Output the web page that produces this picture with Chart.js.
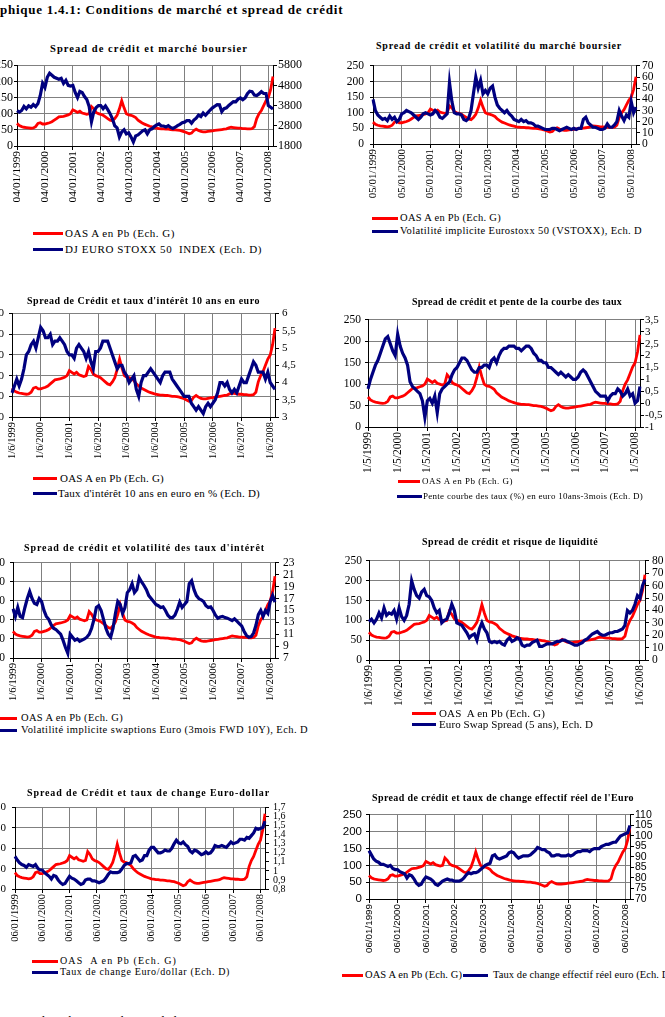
<!DOCTYPE html>
<html><head><meta charset="utf-8">
<script src="https://cdn.jsdelivr.net/npm/chart.js@4.4.1/dist/chart.umd.min.js"></script>
<style>
html,body{margin:0;padding:0;width:665px;height:1017px;overflow:hidden;background:#fff;position:relative}
.t{position:absolute;white-space:pre;color:#000;line-height:1}
.ln{position:absolute;height:3px}
canvas{position:absolute}
</style></head><body>
<script>
// ---------- categories ----------
const years = [1999,2000,2001,2002,2003,2004,2005,2006,2007,2008];
const months = [];
years.forEach(y => { for (let m = 1; m <= 12; m++) if (months.length < 111) months.push(y + '-' + String(m).padStart(2,'0')); });

// ---------- tick labels ----------
const xt1 = ['04/01/1999','04/01/2000','04/01/2001','04/01/2002','04/01/2003','04/01/2004','04/01/2005','04/01/2006','04/01/2007','04/01/2008'];
const xt2 = ['05/01/1999','05/01/2000','05/01/2001','05/01/2002','05/01/2003','05/01/2004','05/01/2005','05/01/2006','05/01/2007','05/01/2008'];
const xt3 = ['1/6/1999','1/6/2000','1/6/2001','1/6/2002','1/6/2003','1/6/2004','1/6/2005','1/6/2006','1/6/2007','1/6/2008'];
const xt4 = ['1/5/1999','1/5/2000','1/5/2001','1/5/2002','1/5/2003','1/5/2004','1/5/2005','1/5/2006','1/5/2007','1/5/2008'];
const xt7 = ['06/01/1999','06/01/2000','06/01/2001','06/01/2002','06/01/2003','06/01/2004','06/01/2005','06/01/2006','06/01/2007','06/01/2008'];

// ---------- series (monthly, Jan 1999 - Mar 2008) ----------
const oas = [
 70,63,60,58,57,56,55,56,60,70,72,68,
 68,70,72,75,80,85,90,91,92,94,96,100,
 112,108,104,108,102,100,98,100,122,115,104,100,
 98,95,90,85,80,78,85,95,115,140,118,100,
 96,95,92,88,80,75,70,67,64,61,59,57,
 55,54,53,53,52,52,51,50,50,49,48,46,
 44,41,38,40,48,52,48,45,44,44,45,46,
 47,48,49,50,51,52,53,56,58,57,56,55,
 55,54,54,53,53,54,60,85,100,110,125,140,
 150,175,215];
const stoxx = [
 3550,3480,3560,3760,3640,3790,3720,3850,3750,3900,4300,4900,
 4700,5200,5400,5300,5200,5150,5100,5150,4900,5050,4800,4770,
 4800,4450,4200,4500,4450,4250,4100,3750,3000,3500,3700,3800,
 3800,3650,3780,3600,3400,3150,2800,2700,2250,2500,2600,2400,
 2450,2250,2000,2300,2350,2450,2550,2600,2400,2600,2650,2760,
 2840,2890,2790,2790,2740,2810,2720,2670,2730,2810,2870,2950,
 2980,3060,3060,2930,3080,3180,3330,3260,3430,3320,3450,3580,
 3690,3770,3850,3840,3500,3650,3690,3810,3900,4000,3990,4120,
 4180,4090,4180,4390,4510,4490,4320,4300,4380,4490,4400,4400,
 3800,3720,3630];
const vstoxx = [
 40,30,26,24,22,23,21,25,22,24,20,22,
 27,28,30,29,28,26,24,22,24,27,28,27,
 26,27,30,28,24,23,25,27,55,38,28,27,
 27,26,22,21,23,30,45,60,50,57,45,48,
 45,50,52,42,35,32,30,28,30,27,25,22,
 21,20,22,20,21,19,19,18,16,16,15,14,
 13,13,13,14,14,13,12,13,14,15,14,13,
 14,13,14,14,22,24,19,17,15,15,14,13,
 13,14,18,15,15,17,20,30,25,21,26,24,
 38,28,33];
const bund10 = [
 3.7,3.9,4.1,3.9,4.1,4.4,4.8,4.9,5.1,5.2,5.0,5.3,
 5.6,5.5,5.3,5.3,5.4,5.1,5.2,5.2,5.3,5.2,5.1,4.9,
 4.8,4.8,4.7,5.0,5.1,5.0,4.9,4.7,4.9,4.6,4.4,4.9,
 4.9,5.0,5.2,5.2,5.2,5.0,4.8,4.6,4.4,4.5,4.5,4.3,
 4.2,4.0,4.1,4.2,3.8,3.6,4.0,4.2,4.2,4.3,4.4,4.3,
 4.2,4.1,4.0,4.2,4.3,4.3,4.3,4.1,4.0,3.9,3.8,3.7,
 3.6,3.6,3.6,3.4,3.3,3.2,3.3,3.2,3.1,3.3,3.4,3.3,
 3.4,3.5,3.7,4.0,4.0,3.9,4.0,3.8,3.7,3.8,3.7,3.9,
 4.1,4.0,4.0,4.2,4.4,4.6,4.5,4.3,4.3,4.3,4.1,4.3,
 4.0,3.9,3.8];
const slope = [
 0.6,1.0,1.3,1.6,1.8,2.1,2.4,2.7,2.8,2.5,2.2,2.0,
 2.9,2.4,2.1,1.9,1.6,0.9,0.7,0.6,0.5,0.4,0.1,-0.6,
 0.1,0.2,0.0,0.3,-0.4,0.4,0.6,0.7,0.8,0.9,1.2,1.4,
 1.5,1.7,1.9,1.9,1.8,1.6,1.4,1.3,1.3,1.5,1.5,1.6,
 1.6,1.5,1.8,1.9,1.7,2.0,2.2,2.3,2.3,2.4,2.4,2.4,
 2.3,2.3,2.2,2.3,2.4,2.4,2.3,2.1,2.0,1.8,1.8,1.7,
 1.7,1.5,1.5,1.4,1.3,1.2,1.3,1.2,1.1,1.2,1.1,1.0,
 1.0,1.1,1.3,1.4,1.3,1.1,0.9,0.7,0.5,0.4,0.3,0.3,
 0.3,0.1,0.3,0.4,0.4,0.6,0.5,0.3,0.4,0.6,0.3,0.4,
 0.0,0.1,0.7];
const swaptionVol = [
 15.3,14,15.5,14,13.8,15.5,17,18.2,17,16.2,16,17,
 16.5,15,14,13.5,12.6,12,11.8,11.4,11,10,8.8,7.8,
 11,10.5,10,10.2,9.8,10,10.2,10.5,11,12,13.5,15.5,
 15.8,15,13.5,12,11,10.5,12,14.5,16.5,16,14.5,15.5,
 18,18.5,19.5,18,18.5,20.5,19.8,19.2,18.5,17.5,17,16.5,
 16,15.8,15.5,15.6,15,14.2,13.8,13.8,14.2,15.2,16.4,15.5,
 16,16.5,19.5,20,18.5,17.5,17,16.8,16.5,15.8,15.5,15.6,
 15,14.2,13.7,13.9,14,13.8,13.7,13.5,13.3,13.6,13.2,12.8,
 12.4,11.5,10.8,10.5,10.6,11.2,12.5,14.3,15,14,15,14.5,
 16.5,17.5,16.4];
const swapSpread = [
 31,33,30,33,38,34,42,36,38,37,40,33,
 42,35,32,36,45,64,57,52,50,55,57,52,
 51,48,42,38,40,30,32,33,38,45,40,30,
 29,28,25,22,18,20,21,16,25,30,25,22,
 15,14,15,14,15,13,12,16,18,15,16,18,
 17,12,11,12,12,14,15,16,11,11,12,13,
 13,13,14,15,15,16,16,15,14,13,12,12,
 13,14,16,17,19,21,22,23,21,20,20,21,
 22,22,23,23,24,25,28,40,38,40,45,52,
 50,60,65];
const eurusd = [
 1.16,1.12,1.09,1.07,1.06,1.04,1.07,1.06,1.05,1.07,1.03,1.01,
 1.01,0.98,0.96,0.94,0.91,0.95,0.94,0.90,0.87,0.85,0.86,0.90,
 0.94,0.92,0.91,0.89,0.87,0.85,0.86,0.90,0.91,0.91,0.89,0.89,
 0.88,0.87,0.88,0.89,0.92,0.96,0.99,0.98,0.98,0.98,0.99,1.02,
 1.06,1.08,1.08,1.09,1.16,1.17,1.14,1.11,1.12,1.17,1.17,1.23,
 1.26,1.26,1.23,1.20,1.20,1.21,1.23,1.22,1.22,1.25,1.30,1.34,
 1.31,1.30,1.32,1.29,1.27,1.22,1.20,1.23,1.22,1.20,1.18,1.19,
 1.21,1.19,1.20,1.23,1.28,1.27,1.27,1.28,1.27,1.26,1.29,1.32,
 1.30,1.31,1.32,1.35,1.35,1.34,1.37,1.36,1.39,1.42,1.47,1.46,
 1.47,1.48,1.55];
const reer = [
 93,91,89,88,87.5,86.5,86.5,86,85.5,86,84.5,84,
 84,83,82.5,82,80,81.5,81,79.5,77.5,76.5,77,79,
 80.5,80,79.5,78.5,77,76.5,77.5,78.5,79,79.5,79,79,
 78.5,78.5,78.5,79,80,81.5,82.5,82,82.5,82.5,83,84,
 85,86,86.5,87,90.5,91,89.5,89,89.5,90,90.5,92,
 92.5,92,90.5,89.5,90,90.5,90.5,90.5,91,92,93,94.5,
 94,93.5,93.5,92.5,92,90.5,90.5,91,91,90.5,90.5,90.5,
 91,90.5,91,92,92.5,92.5,93,93,93,92.5,93.5,94,
 94,94,95,95.5,96,96,96.5,97,97,98.5,100,100.5,
 101,101.5,105];

const SERIF = '"Liberation Serif","Times New Roman",serif';
const SANS = '"Liberation Sans",Arial,sans-serif';

// ---------- text helpers ----------
function txt(str, x, yc, width, size, bold, family) {
  const s = document.createElement('span');
  s.className = 't';
  s.textContent = str;
  s.style.fontFamily = family || SERIF;
  s.style.fontSize = size + 'px';
  if (bold) s.style.fontWeight = 'bold';
  document.body.appendChild(s);
  const nat = s.getBoundingClientRect().width;
  if (width) s.style.letterSpacing = ((width - nat) / str.length) + 'px';
  const h = s.getBoundingClientRect().height;
  s.style.left = x + 'px';
  s.style.top = (yc - h / 2) + 'px';
  return s;
}
function line(x1, x2, y, color) {
  const d = document.createElement('div');
  d.className = 'ln';
  d.style.left = x1 + 'px'; d.style.width = (x2 - x1) + 'px';
  d.style.top = (y - 1.5) + 'px'; d.style.background = color;
  document.body.appendChild(d);
}
const comma = v => String(Math.round(v * 100) / 100).replace('.', ',');

// ---------- panel builder ----------
function panel(c) {
  const L = 50, R = 50, PT = 8;
  const cw = c.r - c.l + L + R;
  const ch = c.b - c.t + PT + c.xh;
  const cv = document.createElement('canvas');
  cv.width = cw; cv.height = ch;
  cv.style.left = (c.l - L) + 'px'; cv.style.top = (c.t - PT) + 'px';
  cv.style.width = cw + 'px'; cv.style.height = ch + 'px';
  document.body.appendChild(cv);
  new Chart(cv, {
    type: 'line',
    data: {labels: months, datasets: [
      {label: c.redLabel, data: c.red, yAxisID: 'y', borderColor: '#ff0000', borderWidth: 2.8, pointRadius: 0, order: 2, tension: 0},
      {label: c.blueLabel, data: c.blue, yAxisID: 'y1', borderColor: '#00007f', borderWidth: 3.2, pointRadius: 0, order: 1, tension: 0}
    ]},
    options: {
      responsive: false, animation: false, devicePixelRatio: 1,
      layout: {padding: {top: PT, left: 0, right: 0, bottom: 0}},
      plugins: {legend: {display: false}, title: {display: false}, tooltip: {enabled: false}},
      scales: {
        x: {
          type: 'category', offset: false,
          afterFit(a) { a.height = c.xh; },
          border: {color: '#000', width: 1},
          grid: {color: '#808080', tickColor: '#000', tickLength: 4, lineWidth: 1},
          ticks: {autoSkip: false, minRotation: 90, maxRotation: 90, padding: 1, color: '#000',
            font: {family: c.xfam || SERIF, size: c.xfs},
            callback: (v, i) => (i % 12 === 0 ? c.xt[i / 12] : null)}
        },
        y: {
          position: 'left', min: c.ymin, max: c.ymax,
          afterFit(a) { a.width = L; },
          border: {color: '#000', width: 1},
          grid: {color: '#808080', tickColor: '#000', tickLength: 3, lineWidth: 1},
          ticks: {stepSize: c.ystep, autoSkip: false, padding: c.lg - 3, color: '#000',
            font: {family: c.yfam || SERIF, size: c.yfs}}
        },
        y1: {
          position: 'right', min: c.y1min, max: c.y1max,
          afterFit(a) { a.width = R; },
          border: {color: '#000', width: 1},
          grid: {drawOnChartArea: false, tickColor: '#000', tickLength: 4},
          ticks: {stepSize: c.y1step, autoSkip: false, padding: c.rg - 4, color: '#000',
            font: {family: c.yfam || SERIF, size: c.y1fs || c.yfs}, callback: v => comma(v)}
        }
      }
    }
  });
}

// ---------- main title & source ----------
(function () {
  const full = 'Graphique 1.4.1: Conditions de marché et spread de crédit';
  const probe = txt('Gra', 0, -50, null, 13, true);
  const pre = probe.getBoundingClientRect().width; probe.remove();
  const probe2 = txt('phique 1.4.1: Conditions de marché et spread de crédit', 0, -50, null, 13, true);
  const vis = probe2.getBoundingClientRect().width; probe2.remove();
  const ls = (344 - vis) / 55;
  txt(full, -(pre + ls * 3), 9, null, 13, true).style.letterSpacing = ls + 'px';
  const s = txt('Sources : Bloomberg, graphiques de l\'auteur', 0, 1020, null, 13, false);
  const p3 = txt('Sources : ', 0, -50, null, 13, false);
  const w = p3.getBoundingClientRect().width; p3.remove();
  s.style.left = (33 - w) + 'px';
})();

// ---------- panels ----------
panel({l: 17, t: 65, r: 273, b: 146, xh: 70, xt: xt1, xfs: 11.3, yfs: 12, lg: 4, rg: 5,
  red: oas, blue: stoxx, redLabel: 'OAS A en Pb (Ech. G)', blueLabel: 'DJ EURO STOXX 50  INDEX (Ech. D)',
  ymin: 0, ymax: 250, ystep: 50, y1min: 1800, y1max: 5800, y1step: 1000});
txt('Spread de crédit et marché boursier', 50, 49, 198, 10.5, true);
line(33, 63, 233, '#ff0000'); txt('OAS A en Pb (Ech. G)', 65, 233, 110, 11);
line(33, 63, 249, '#00007f'); txt('DJ EURO STOXX 50  INDEX (Ech. D)', 65, 249, 197, 11);

panel({l: 373, t: 61, r: 636, b: 144, xh: 66, xt: xt2, xfs: 10.8, yfs: 11.5, lg: 9, rg: 6,
  red: oas, blue: vstoxx, redLabel: 'OAS A en Pb (Ech. G)', blueLabel: 'Volatilité implicite Eurostoxx 50 (VSTOXX), Ech. D',
  ymin: 0, ymax: 250, ystep: 50, y1min: 0, y1max: 70, y1step: 10});
txt('Spread de crédit et volatilité du marché boursier', 376, 46, 246, 10, true);
line(372, 398, 218, '#ff0000'); txt('OAS A en Pb (Ech. G)', 400, 218, 101, 10.5);
line(372, 398, 231, '#00007f'); txt('Volatilité implicite Eurostoxx 50 (VSTOXX), Ech. D', 400, 231, 242, 10.5);

panel({l: 12, t: 310, r: 275, b: 417, xh: 48, xt: xt3, xfs: 10.4, yfs: 11, lg: 8, rg: 7,
  red: oas, blue: bund10, redLabel: 'OAS A en Pb (Ech. G)', blueLabel: "Taux d'intérêt 10 ans en euro en % (Ech. D)",
  ymin: 0, ymax: 250, ystep: 50, y1min: 3, y1max: 6, y1step: 0.5});
txt("Spread de Crédit et taux d'intérêt 10 ans en euro", 27, 301, 233, 10, true);
line(33, 57, 478, '#ff0000'); txt('OAS A en Pb (Ech. G)', 60, 478, 104, 11);
line(33, 57, 493, '#00007f'); txt("Taux d'intérêt 10 ans en euro en % (Ech. D)", 58, 493, 202, 11);

panel({l: 368, t: 317, r: 640, b: 427, xh: 56, xt: xt4, xfs: 11.5, yfs: 11.5, y1fs: 11, lg: 7, rg: 5,
  red: oas, blue: slope, redLabel: 'OAS A en Pb (Ech. G)', blueLabel: 'Pente courbe des taux (%) en euro 10ans-3mois (Ech. D)',
  ymin: 0, ymax: 250, ystep: 50, y1min: -1, y1max: 3.5, y1step: 0.5});
txt('Spread de crédit et pente de la courbe des taux', 412, 302, 210, 10, true);
line(398, 420, 481, '#ff0000'); txt('OAS A en Pb (Ech. G)', 422, 481, 91, 9);
line(397, 422, 496, '#00007f'); txt('Pente courbe des taux (%) en euro 10ans-3mois (Ech. D)', 423, 496, 220, 9);

panel({l: 13, t: 559, r: 275, b: 658, xh: 52, xt: xt3, xfs: 10.7, yfs: 11.5, lg: 8, rg: 8,
  red: oas, blue: swaptionVol, redLabel: 'OAS A en Pb (Ech. G)', blueLabel: 'Volatilité implicite swaptions Euro (3mois FWD 10Y), Ech. D',
  ymin: 0, ymax: 250, ystep: 50, y1min: 7, y1max: 23, y1step: 2});
txt("Spread de crédit et volatilité des taux d'intérêt", 24, 548, 241, 10, true);
line(-5, 17, 718, '#ff0000'); txt('OAS A en Pb (Ech. G)', 21, 718, 102, 10.5);
line(-5, 17, 730, '#00007f'); txt('Volatilité implicite swaptions Euro (3mois FWD 10Y), Ech. D', 21, 730, 287, 10.5);

panel({l: 369, t: 558, r: 645, b: 660, xh: 54, xt: xt3, xfs: 11.5, yfs: 11.5, lg: 7, rg: 7,
  red: oas, blue: swapSpread, redLabel: 'OAS  A en Pb (Ech. G)', blueLabel: 'Euro Swap Spread (5 ans), Ech. D',
  ymin: 0, ymax: 250, ystep: 50, y1min: 0, y1max: 80, y1step: 10});
txt('Spread de crédit et risque de liquidité', 422, 542, 176, 10, true);
line(412, 436, 713, '#ff0000'); txt('OAS  A en Pb (Ech. G)', 439, 713, 106, 11);
line(412, 436, 724, '#00007f'); txt('Euro Swap Spread (5 ans), Ech. D', 439, 724, 154, 11);

panel({l: 15, t: 803, r: 265, b: 889, xh: 60, xt: xt7, xfs: 10.5, yfs: 11, y1fs: 10, lg: 9, rg: 8,
  red: oas, blue: eurusd, redLabel: 'OAS  A en Pb (Ech. G)', blueLabel: 'Taux de change Euro/dollar (Ech. D)',
  ymin: 30, ymax: 230, ystep: 50, y1min: 0.8, y1max: 1.7, y1step: 0.1});
txt('Spread de Crédit et taux de change Euro-dollar', 27, 793, 243, 10, true);
line(32, 58, 961, '#ff0000'); txt('OAS  A en Pb (Ech. G)', 60, 961, 117, 10);
line(32, 58, 972, '#00007f'); txt('Taux de change Euro/dollar (Ech. D)', 60, 972, 170, 10);

panel({l: 369, t: 812, r: 630, b: 899, xh: 60, xt: xt7, xfs: 9.8, xfam: SANS, yfs: 11.5, y1fs: 10.5, yfam: SANS, lg: 7, rg: 5,
  red: oas, blue: reer, redLabel: 'OAS A en Pb (Ech. G)', blueLabel: 'Taux de change effectif réel euro (Ech. D)',
  ymin: 0, ymax: 250, ystep: 50, y1min: 70, y1max: 110, y1step: 5});
txt("Spread de crédit et taux de change effectif réel de l'Euro", 372, 798, 262, 10, true);
line(342, 363, 975, '#ff0000'); txt('OAS A en Pb (Ech. G)', 365, 975, 97, 10.5);
line(463, 488, 975, '#00007f'); txt('Taux de change effectif réel euro (Ech. D)', 493, 975, 180, 10.5);
</script>
</body></html>
